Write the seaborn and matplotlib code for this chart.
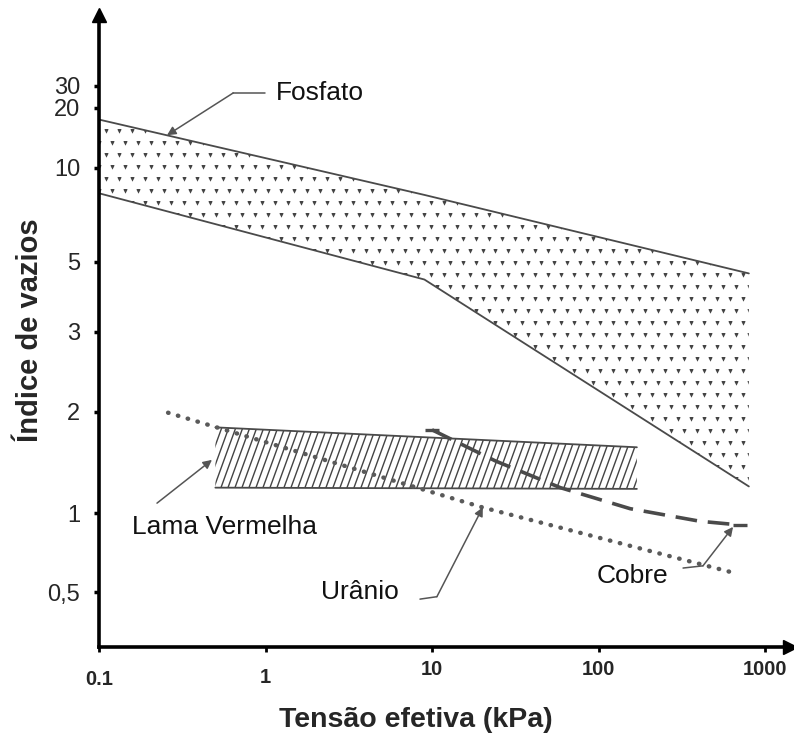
import numpy as np
import pandas as pd
import matplotlib
matplotlib.use("Agg")
import matplotlib.pyplot as plt
import matplotlib.transforms as mtransforms
from matplotlib.collections import LineCollection
import seaborn as sns

# Effective stress (kPa) against void ratio for each tailings type
fosfato_x = [0.1, 9, 800]
fosfato_upper = [17.5, 8.2, 4.6]
fosfato_lower = [8.3, 4.4, 1.2]

lama_x = [0.5, 170]
lama_upper = [1.80, 1.57]
lama_lower = [1.19, 1.18]

uranio_x = [0.26, 20, 660]
uranio_e = [1.99, 1.04, 0.59]

cobre_x = [10, 24, 59, 155, 407, 708]
cobre_e = [1.77, 1.43, 1.19, 1.03, 0.93, 0.90]

x_ticks = [0.1, 1, 10, 100, 1000]
x_tick_labels = ["0.1", "1", "10", "100", "1000"]
y_ticks = [0.5, 1, 2, 3, 5, 10, 20, 30]
y_tick_labels = ["0,5", "1", "2", "3", "5", "10", "20", "30"]

# The void-ratio axis is ruled unevenly: knots give log10(value) against
# height above the stress axis (px)
_knot_val = np.log10([0.31, 0.5, 1, 2, 3, 5, 10, 20, 30, 110])
_knot_pos = np.array([0, 55, 134, 235, 315, 385, 479, 539, 561, 632], float)


def _fwd(v):
    v = np.clip(np.asarray(v, float), 1e-9, None)
    return np.interp(np.log10(v), _knot_val, _knot_pos)


def _inv(p):
    return 10 ** np.interp(np.asarray(p, float), _knot_pos, _knot_val)


sns.set_style("white")
plt.rcParams["font.family"] = ["Liberation Sans", "DejaVu Sans"]

W, H = 794, 742
fig = plt.figure(figsize=(W / 100, H / 100), dpi=100)
ax = fig.add_axes([99 / W, 95 / H, 691 / W, 632 / H])
ax.set_xscale("log")
ax.set_yscale("function", functions=(_fwd, _inv))
ax.set_xlim(0.1, 1413)
ax.set_ylim(0.31, 110)

line_col = "#4a4a4a"

# --- Fosfato: stippled band ---
fos = ax.fill_between(fosfato_x, fosfato_lower, fosfato_upper,
                      facecolor="none", edgecolor="none", lw=0)
fos_path = fos.get_paths()[0]
gx, gy = [], []
dx, dy = 13 / 691, 12 / 632
for j, yy in enumerate(np.arange(0, 1, dy)):
    off = (dx / 2) if j % 2 else 0
    for xx in np.arange(off, 1, dx):
        gx.append(xx)
        gy.append(yy)
dots = ax.scatter(gx, gy, transform=ax.transAxes, marker="v", s=10,
                  color="#444444", linewidths=0, zorder=2)
dots.set_clip_path(fos_path, ax.transData)

fos_df = pd.DataFrame({"x": fosfato_x, "upper": fosfato_upper,
                       "lower": fosfato_lower})
sns.lineplot(data=fos_df, x="x", y="upper", ax=ax, color=line_col, lw=1.3,
             estimator=None, sort=False)
sns.lineplot(data=fos_df, x="x", y="lower", ax=ax, color=line_col, lw=1.3,
             estimator=None, sort=False)

# --- Lama Vermelha: hatched band ---
lama = ax.fill_between(lama_x, lama_lower, lama_upper,
                       facecolor="none", edgecolor="none", lw=0)
lama_path = lama.get_paths()[0]
slant = 632 * np.tan(np.radians(20)) / 691
step = 7 / 691
segs = [[(x0, 0), (x0 + slant, 1)] for x0 in np.arange(-slant, 1, step)]
hatch = LineCollection(segs, transform=ax.transAxes, colors="#444444",
                       linewidths=1.0, zorder=2)
ax.add_collection(hatch)
hatch.set_clip_path(lama_path, ax.transData)

lama_df = pd.DataFrame({"x": lama_x, "upper": lama_upper, "lower": lama_lower})
sns.lineplot(data=lama_df, x="x", y="upper", ax=ax, color=line_col, lw=1.3,
             estimator=None, sort=False)
sns.lineplot(data=lama_df, x="x", y="lower", ax=ax, color=line_col, lw=1.3,
             estimator=None, sort=False)

# --- Urânio: dotted curve ---
sns.lineplot(x=uranio_x, y=uranio_e, ax=ax, color="#5a5a5a", lw=3.2,
             linestyle=(0, (0.1, 2.2)), dash_capstyle="round",
             estimator=None, sort=False, zorder=3)

# --- Cobre: dashed curve ---
sns.lineplot(x=cobre_x, y=cobre_e, ax=ax, color="#4a4a4a", lw=2.6,
             linestyle=(0, (6, 3)), estimator=None, sort=False, zorder=3)
ax.plot([cobre_x[0], cobre_x[-1]], [cobre_e[0], cobre_e[-1]], ls="none",
        marker="_", ms=10, mew=2.4, color="#4a4a4a", zorder=3)

# --- labels with leader arrows ---
txt_kw = dict(fontsize=19, color="#111111")
arr_kw = dict(arrowstyle="-|>", color="#555555", lw=1.1, mutation_scale=13,
              shrinkA=0, shrinkB=0)

ax.text(1.15, 26.4, "Fosfato", ha="left", va="center", **txt_kw)
ax.plot([0.99, 0.64], [26.4, 26.4], color="#555555", lw=1.1)
ax.annotate("", xy=(0.256, 14.6), xytext=(0.64, 26.4), arrowprops=arr_kw)

ax.text(0.571, 0.885, "Lama Vermelha", ha="center", va="center", **txt_kw)
ax.annotate("", xy=(0.477, 1.44), xytext=(0.223, 1.07), arrowprops=arr_kw)

ax.text(3.7, 0.50, "Urânio", ha="center", va="center", **txt_kw)
ax.plot([8.47, 10.7], [0.47, 0.48], color="#555555", lw=1.1)
ax.annotate("", xy=(20.2, 1.04), xytext=(10.7, 0.48), arrowprops=arr_kw)

ax.text(159, 0.575, "Cobre", ha="center", va="center", **txt_kw)
ax.plot([322, 424], [0.617, 0.629], color="#555555", lw=1.1)
ax.annotate("", xy=(643, 0.885), xytext=(424, 0.629), arrowprops=arr_kw)

# --- axes ---
ax.set_xticks(x_ticks)
ax.set_xticklabels(x_tick_labels, fontsize=14.5, fontweight="bold")
ax.xaxis.set_minor_locator(matplotlib.ticker.NullLocator())
ax.set_yticks(y_ticks)
ax.set_yticklabels(y_tick_labels, fontsize=17)
ax.yaxis.set_minor_locator(matplotlib.ticker.NullLocator())
ax.tick_params(axis="x", direction="out", length=3.5, width=2, pad=6,
               color="black", bottom=True)
ax.tick_params(axis="y", direction="out", length=3.5, width=2.5, pad=10,
               color="black", left=True)
for lbl, shift in zip(ax.get_xticklabels(), [10, 8, 0, 0, 0]):
    lbl.set_transform(lbl.get_transform() + mtransforms.ScaledTranslation(
        0, -shift / 100, fig.dpi_scale_trans))

for side in ("top", "right"):
    ax.spines[side].set_visible(False)
for side in ("left", "bottom"):
    ax.spines[side].set_linewidth(2.6)
    ax.spines[side].set_color("black")
ax.plot(0, 1, marker="^", ms=10, color="black", transform=ax.transAxes,
        clip_on=False)
ax.plot(1, 0, marker=">", ms=10, color="black", transform=ax.transAxes,
        clip_on=False)

ax.set_xlabel("Tensão efetiva (kPa)", fontsize=20.5, fontweight="bold",
              va="center")
ax.xaxis.set_label_coords(0.459, -0.1155)
ax.set_ylabel("Índice de vazios", fontsize=21, fontweight="bold", va="center")
ax.yaxis.set_label_coords(-0.0999, 0.5016)

fig.savefig("out.png", dpi=100)
